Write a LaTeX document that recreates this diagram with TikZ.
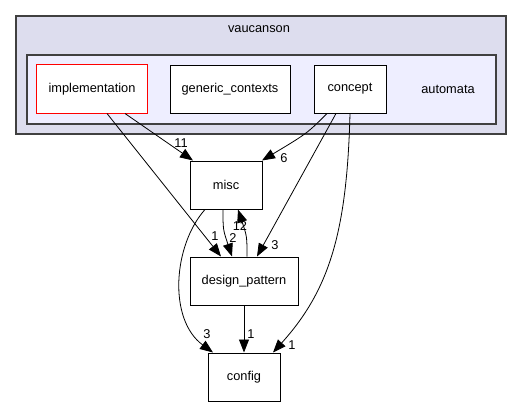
\documentclass[tikz,border=0pt]{standalone}
\usepackage{fontspec}
\setmainfont{Liberation Sans}
\usetikzlibrary{arrows.meta}

\definecolor{outerfill}{HTML}{DDDDEE}
\definecolor{innerfill}{HTML}{EEEEFF}
\definecolor{framegray}{HTML}{404040}
\definecolor{mainred}{HTML}{FF0000}

\tikzset{
  dirbox/.style={draw=black, fill=white, line width=1pt, minimum height=48pt, inner sep=0pt, font=\fontsize{12.8}{15}\selectfont},
  cnt/.style={inner sep=0pt, font=\fontsize{12.8}{15}\selectfont},
  dep/.style={-{Triangle[length=13pt,width=10pt]}, line width=0.8pt}
}

\begin{document}
\begin{tikzpicture}[x=1pt, y=-1pt]
  \useasboundingbox (0, 0) rectangle (523, 407);

  \draw[framegray, fill=outerfill, line width=1.2pt] (16, 16) rectangle (506, 134);
  \node[cnt] (vaucanson) at (259, 29) {vaucanson};
  \draw[framegray, fill=innerfill, line width=1.2pt] (27, 55) rectangle (496, 124);
  \node[cnt] (automata) at (448, 89) {automata};

  \node[dirbox, draw=none, minimum width=110pt] (impl) at (92, 89) {implementation};
  \draw[mainred, line width=1.2pt] (impl.south west) rectangle (impl.north east);
  \node[dirbox, minimum width=120pt] (generic) at (230, 89) {generic\_contexts};
  \node[dirbox, minimum width=72pt] (concept) at (350, 89) {concept};
  \node[dirbox, minimum width=72pt] (misc) at (226, 185) {misc};
  \node[dirbox, minimum width=108pt] (dp) at (244, 281) {design\_pattern};
  \node[dirbox, minimum width=72pt] (config) at (244, 377) {config};

  \draw[dep] ([xshift=33pt]impl.south) -- ([xshift=-33pt]misc.north);
  \draw[dep] ([xshift=15pt]impl.south) -- ([xshift=-23pt]dp.north);
  \draw[dep] ([xshift=-23pt]concept.south) .. controls +(-20, 20) .. ([xshift=36pt]misc.north);
  \draw[dep] ([xshift=-14pt]concept.south) -- ([xshift=13pt]dp.north);
  \draw[dep] (concept.south) .. controls +(-3, 117) and +(57, -63) .. ([xshift=29pt]config.north);
  \draw[dep] ([xshift=-3pt]misc.south) .. controls +(0, 20) .. ([xshift=-12pt]dp.north);
  \draw[dep] ([xshift=3pt]dp.north) .. controls +(0, -20) .. ([xshift=12pt]misc.south);
  \draw[dep] ([xshift=-21pt]misc.south) .. controls +(-32, 36) and +(-45, -33) .. ([xshift=-31pt]config.north);
  \draw[dep] (dp.south) -- (config.north);

  \node[cnt] (n11) at (181, 143) {11};
  \node[cnt] (n6) at (284, 158) {6};
  \node[cnt] (n1a) at (215, 236) {1};
  \node[cnt] (n12) at (240, 226) {12};
  \node[cnt] (n2) at (233, 238) {2};
  \node[cnt] (n3a) at (275, 245) {3};
  \node[cnt] (n3b) at (207, 334) {3};
  \node[cnt] (n1b) at (251, 334) {1};
  \node[cnt] (n1c) at (292, 345) {1};
\end{tikzpicture}
\end{document}
